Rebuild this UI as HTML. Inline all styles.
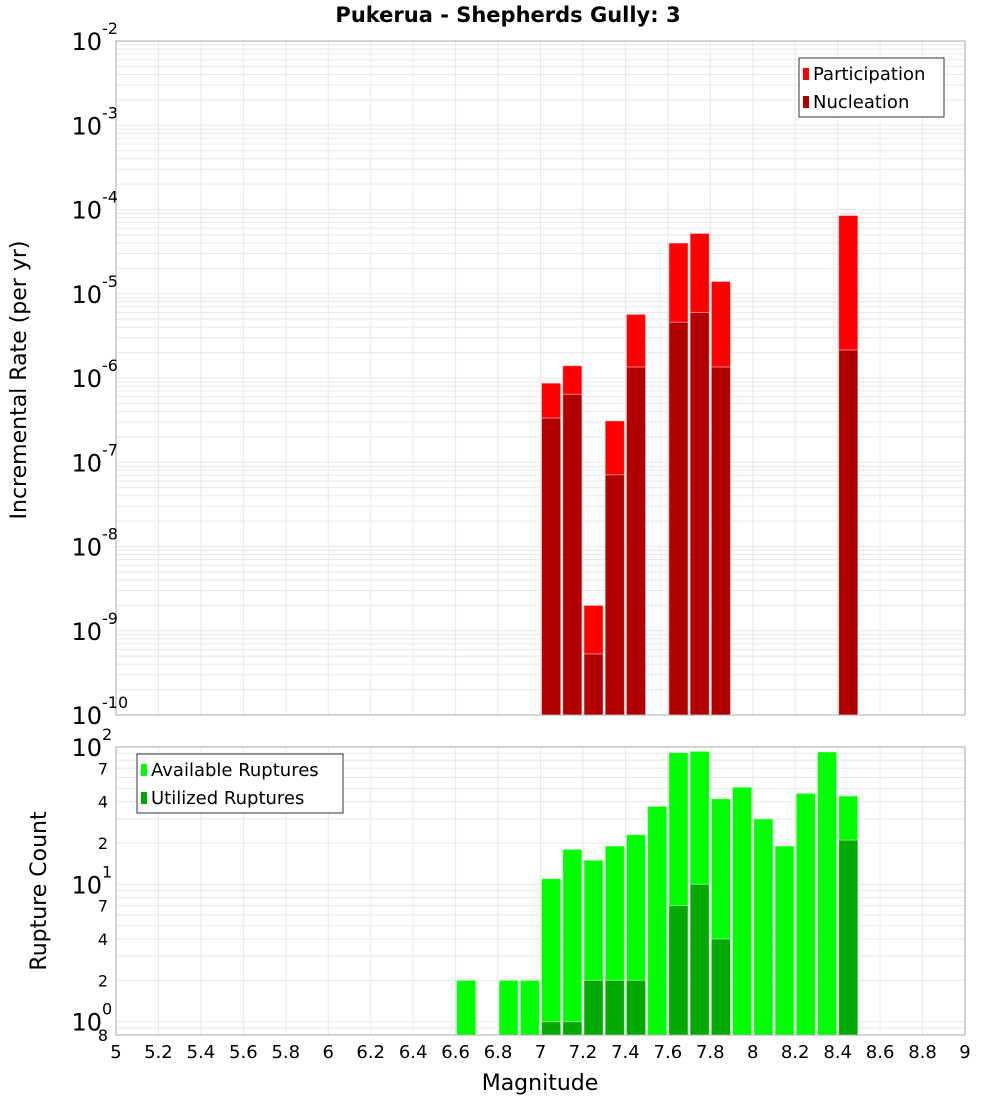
<!DOCTYPE html>
<html><head><meta charset="utf-8"><style>
body{margin:0;background:#fff;font-family:"Liberation Sans","DejaVu Sans",sans-serif}
svg text{font-family:"DejaVu Sans","Liberation Sans",sans-serif}
</style></head><body>
<svg id="c" width="1000" height="1100" xmlns="http://www.w3.org/2000/svg">
<rect width="1000" height="1100" fill="#fff"/>
<text x="508" y="22" text-anchor="middle" font-weight="bold" font-size="21">Pukerua - Shepherds Gully: 3</text>
</svg>
<script>
const mags=[6.65,6.85,6.95,7.05,7.15,7.25,7.35,7.45,7.55,7.65,7.75,7.85,7.95,8.05,8.15,8.25,8.35,8.45];
const available=[2,2,2,11,18,15,19,23,37,91,93,42,51,30,19,46,92,44];
const utilized=[0,0,0,1,1,2,2,2,0,7,10,4,0,0,0,0,0,21];
const rateMags=[7.05,7.15,7.25,7.35,7.45,7.65,7.75,7.85,8.45];
const participation=[8.7e-7,1.4e-6,2.0e-9,3.1e-7,5.7e-6,4.0e-5,5.2e-5,1.4e-5,8.5e-5];
const nucleation=[3.35e-7,6.4e-7,5.3e-10,7.1e-8,1.35e-6,4.6e-6,6.0e-6,1.35e-6,2.15e-6];
const xTicks=[5,5.2,5.4,5.6,5.8,6,6.2,6.4,6.6,6.8,7,7.2,7.4,7.6,7.8,8,8.2,8.4,8.6,8.8,9];
const topExps=[-2,-3,-4,-5,-6,-7,-8,-9,-10];

const NS="http://www.w3.org/2000/svg";
const svg=document.getElementById('c');
function el(t,a,p){const e=document.createElementNS(NS,t);for(const k in a)e.setAttribute(k,a[k]);(p||svg).appendChild(e);return e;}
const L=116,R=965;
const x=m=>L+(m-5)/4*(R-L);
const T1=41,B1=715;
const y1=v=>T1+(-2-Math.log10(v))/8*(B1-T1);
const T2=747,B2=1035,lmin=Math.log10(0.8),lmax=2;
const y2=v=>T2+(lmax-Math.log10(v))/(lmax-lmin)*(B2-T2);

function grid(T,B,yf,lo,hi){
  for(let d=lo;d<hi;d++)for(let k=1;k<10;k++){const v=k*Math.pow(10,d);const yy=yf(v);if(yy<T-0.5||yy>B+0.5)continue;
    const g=el('line',{x1:L,x2:R,y1:yy,y2:yy,stroke:'#e8e8e8','stroke-width':1});
    
    }
  xTicks.forEach(t=>{const g=el('line',{x1:x(t),x2:x(t),y1:T,y2:B,stroke:'#e8e8e8','stroke-width':1});
    
    });
}
grid(T1,B1,y1,-10,-2);
grid(T2,B2,y2,-1,2);
function bar(m,v,base,yf,col,name){
  const x0=x(m-0.05)+1,x1=x(m+0.05)-1;const yt=yf(v);
  const r=el('rect',{x:x0,y:yt,width:x1-x0,height:base-yt,fill:col,stroke:'rgba(255,255,255,0.5)','stroke-width':1});
  
  
}
rateMags.forEach((m,i)=>{bar(m,participation[i],B1,y1,'#ff0000','participation-bar');bar(m,nucleation[i],B1,y1,'#b20000','nucleation-bar');});
mags.forEach((m,i)=>{bar(m,available[i],B2,y2,'#00ff00','available-bar');if(utilized[i]>0)bar(m,utilized[i],B2,y2,'#00aa00','utilized-bar');});
[[T1,B1,'top-plot-frame'],[T2,B2,'bottom-plot-frame']].forEach(([T,B,n])=>{const f=el('rect',{x:L,y:T,width:R-L,height:B-T,fill:'none',stroke:'#aaa','stroke-width':1});
  
  });
function pow(yy,e,name){
  const t=el('text',{x:102,y:yy+9,'text-anchor':'end','font-size':24});t.textContent='10';
  
  
  const s=el('text',{x:102,y:yy-7,'font-size':16});s.textContent=e;
  
  
}
topExps.forEach(e=>pow(y1(Math.pow(10,e)),e,'y-tick-label'));
[0,1,2].forEach(e=>pow(y2(Math.pow(10,e)),e,'count-tick-label'));
[[2,'2'],[4,'4'],[7,'7'],[20,'2'],[40,'4'],[70,'7'],[0.8,'8']].forEach(([v,s])=>{
  const t=el('text',{x:108,y:y2(v)+(v===0.8?6:6),'text-anchor':'end','font-size':16});t.textContent=s;
  
  });
xTicks.forEach(t=>{const tx=el('text',{x:x(t),y:1058,'text-anchor':'middle','font-size':18});tx.textContent=String(t);
  
  });
const xt=el('text',{x:540,y:1090,'text-anchor':'middle','font-size':22});xt.textContent='Magnitude';


const yt1=el('text',{x:0,y:0,'text-anchor':'middle','font-size':22,transform:'translate(26,380) rotate(-90)'});yt1.textContent='Incremental Rate (per yr)';


const yt2=el('text',{x:0,y:0,'text-anchor':'middle','font-size':22,transform:'translate(46,891) rotate(-90)'});yt2.textContent='Rupture Count';


function legend(x0,y0,w,h,items,name){
  const g=el('g',{});
  
  
  el('rect',{x:x0,y:y0,width:w,height:h,fill:'#fff',stroke:'#333','stroke-width':1},g);
  items.forEach(([c,s],i)=>{const yy=y0+15+i*28;
    el('rect',{x:x0+4,y:yy-5,width:6,height:12,fill:c},g);
    const t=el('text',{x:x0+14,y:yy+7,'font-size':18},g);t.textContent=s;
    
    });
}
legend(799,58,145,59,[['#ff0000','Participation'],['#b20000','Nucleation']],'rate-legend');
legend(137,754,206,59,[['#00ff00','Available Ruptures'],['#00aa00','Utilized Ruptures']],'count-legend');
</script>
</body></html>
